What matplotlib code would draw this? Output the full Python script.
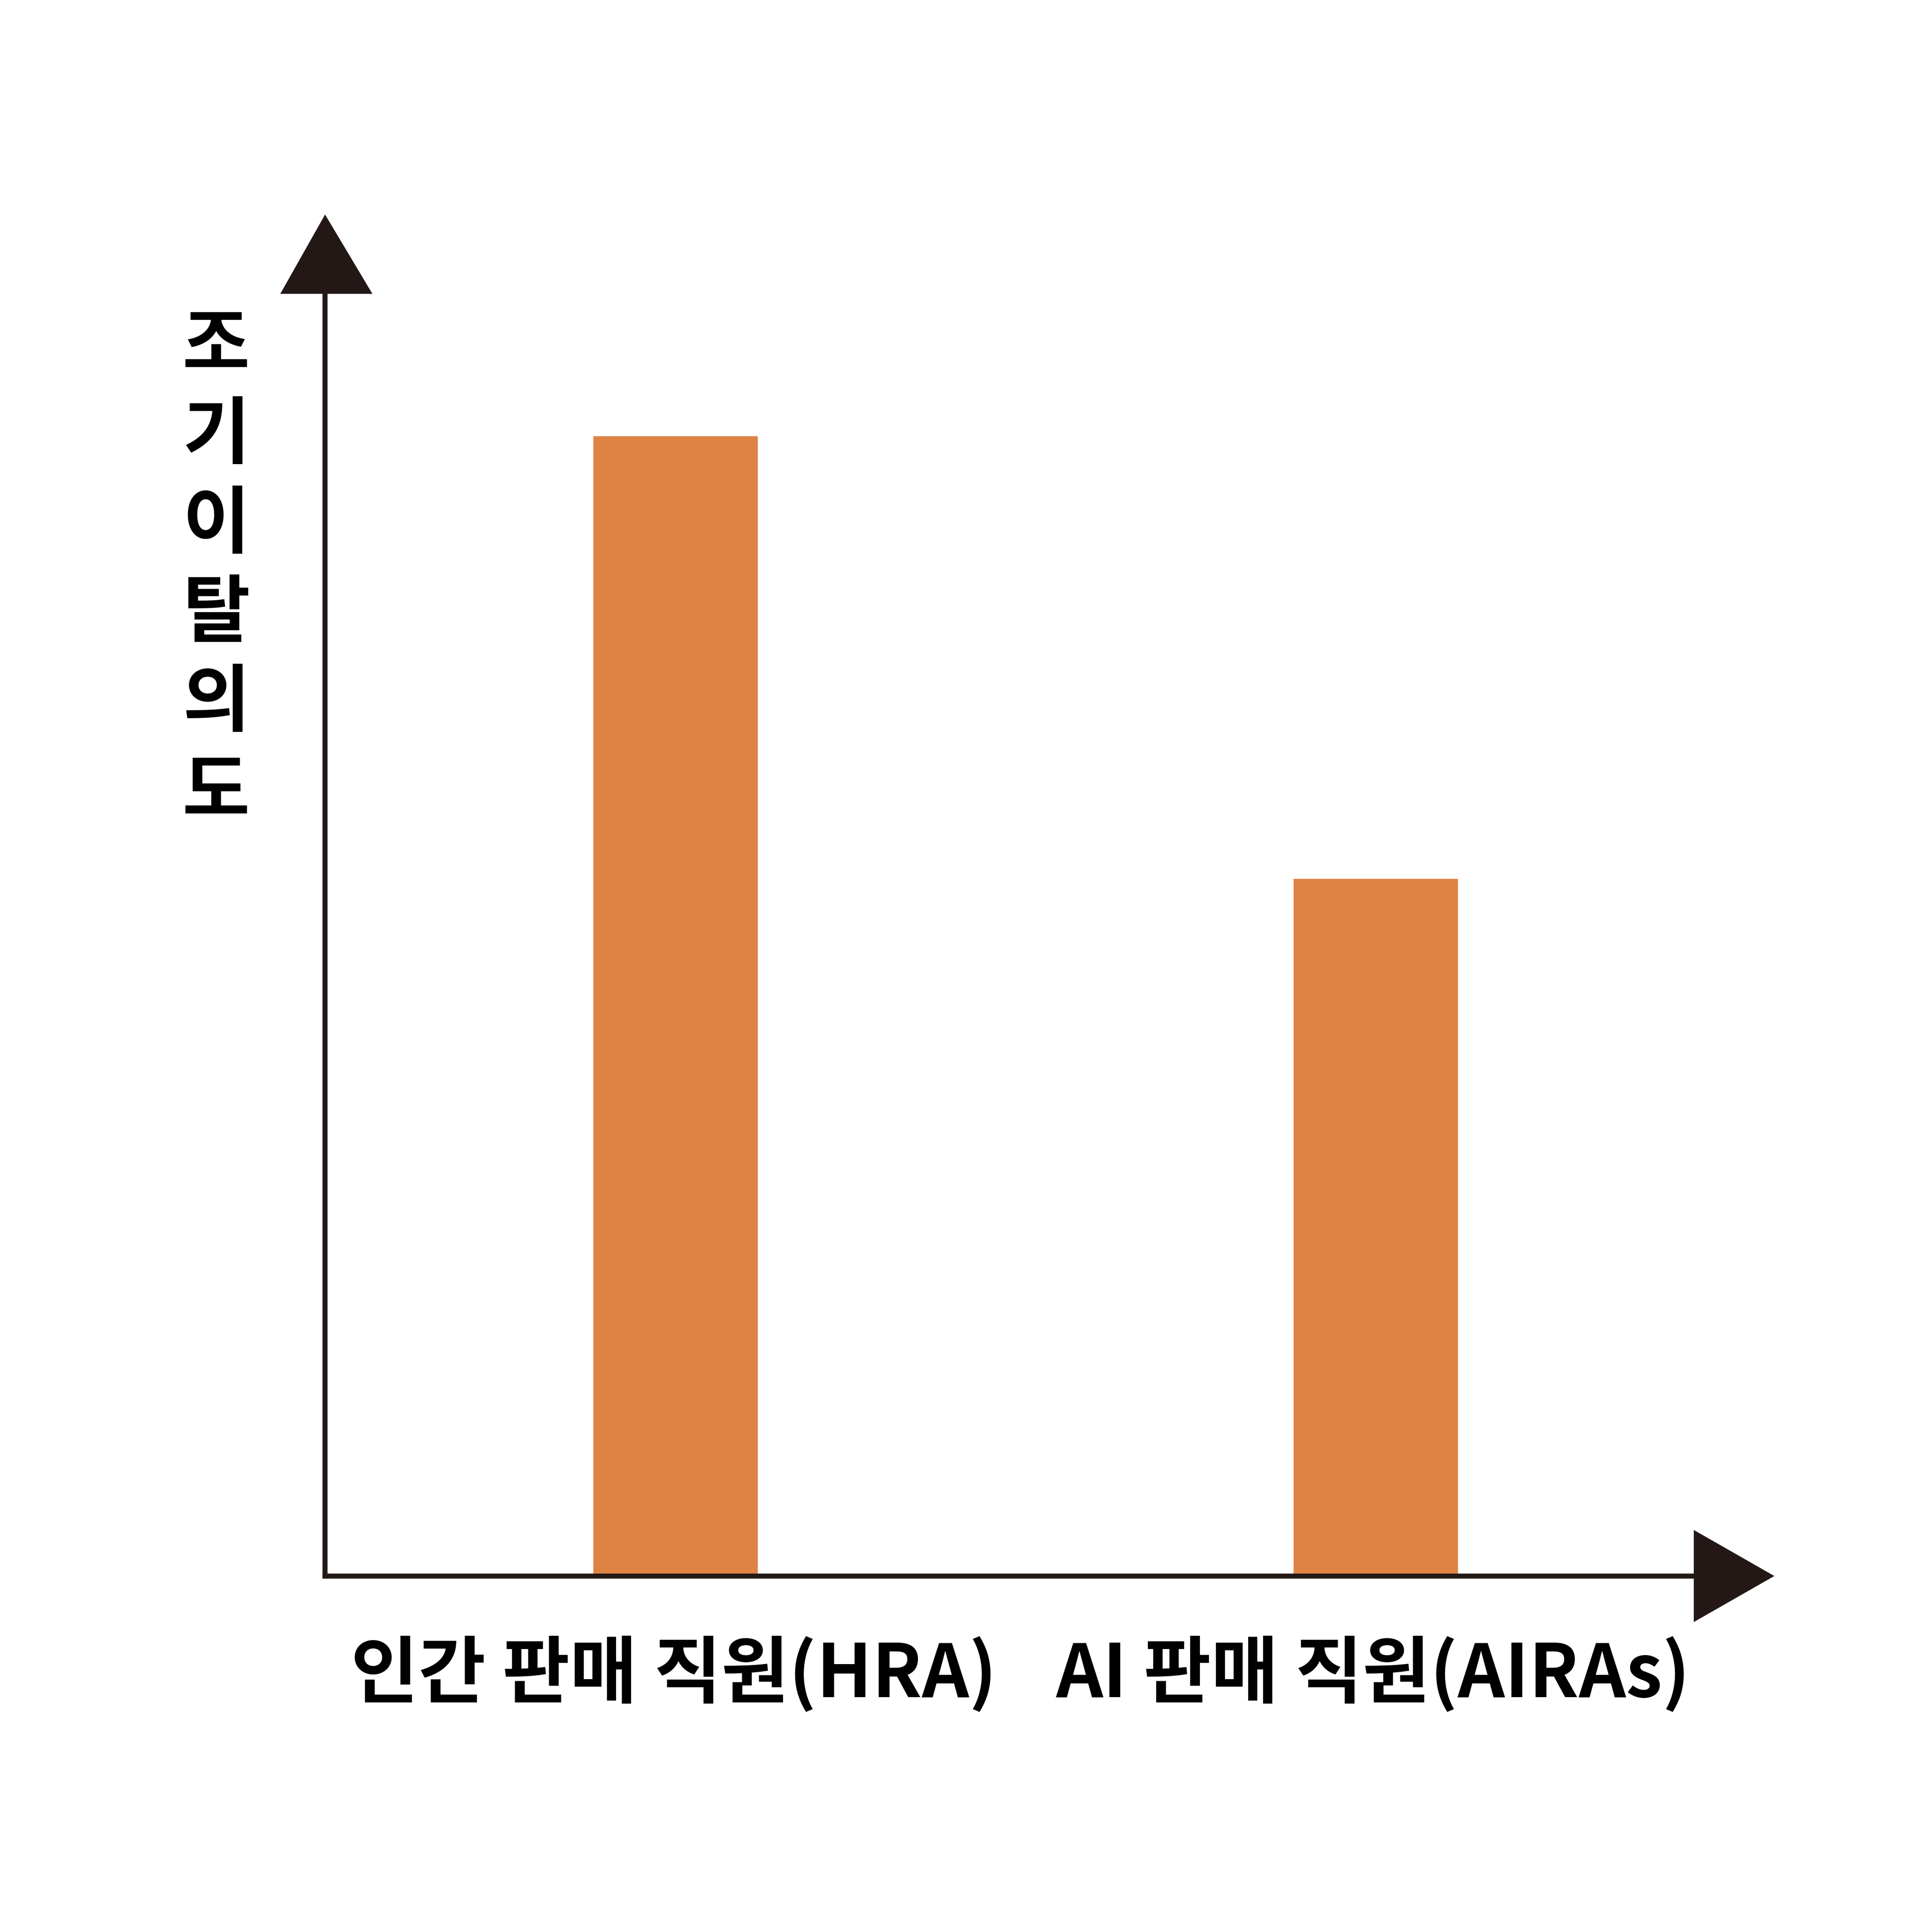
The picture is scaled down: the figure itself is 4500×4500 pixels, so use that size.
import matplotlib.pyplot as plt
from matplotlib.patches import Polygon

plt.rcParams['font.family'] = ['Noto Sans CJK KR', 'DejaVu Sans']

categories = ["인간 판매 직원(HRA)", "AI 판매 직원(AIRAs)"]
values = [92.2, 56.4]
ylabel_chars = ["조", "기", "이", "탈", "의", "도"]

bar_color = "#DF8345"
axis_color = "#231815"

W = 1563.0  # layout measured on a 1563 px grid
fig = plt.figure(figsize=(15, 15), dpi=300)
fig.patch.set_facecolor("white")

x0, y0 = 263, 1275
ax = fig.add_axes([x0 / W, 1 - y0 / W, (1434 - x0) / W, (y0 - 175) / W])
ax.set_xlim(0, 1171)
ax.set_ylim(0, 110)
ax.axis("off")

xpos = [546.5 - x0, 1113 - x0]
ax.bar(xpos, values, width=133, color=bar_color, zorder=1)

# axes lines and arrow heads, drawn in figure fraction
lw = 2.8
fig.add_artist(plt.Line2D([x0 / W, x0 / W], [1 - y0 / W, 1 - 237 / W],
                          color=axis_color, lw=lw))
fig.add_artist(plt.Line2D([x0 / W, 1371 / W], [1 - y0 / W, 1 - y0 / W],
                          color=axis_color, lw=lw))
fig.add_artist(Polygon([[228 / W, 1 - 237 / W], [300 / W, 1 - 237 / W], [263 / W, 1 - 175 / W]],
                       closed=True, color=axis_color, transform=fig.transFigure))
fig.add_artist(Polygon([[1371 / W, 1 - 1239 / W], [1371 / W, 1 - 1311 / W], [1434 / W, 1 - y0 / W]],
                       closed=True, color=axis_color, transform=fig.transFigure))

for xc, lab in zip([545, 1111], categories):
    fig.text(xc / W, 1 - 1355 / W, lab, ha="center", va="center",
             fontsize=41, fontweight="bold", color="black")

fig.text(175 / W, 1 - 461 / W, "\n".join(ylabel_chars), ha="center", va="center",
         fontsize=41, fontweight="bold", color="black", linespacing=1.25)

fig.savefig("out.png", dpi=300, facecolor="white")
